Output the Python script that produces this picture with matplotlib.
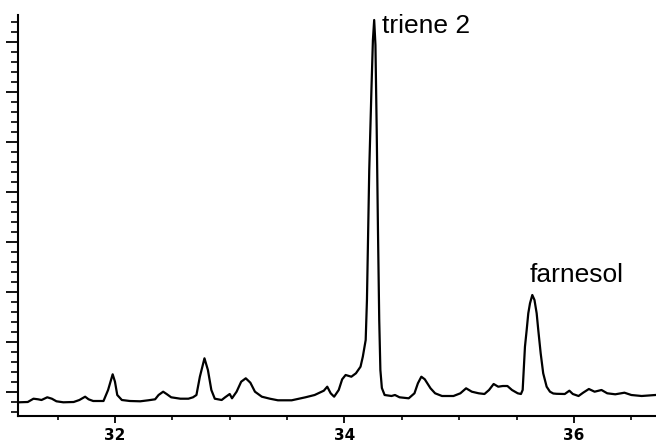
import matplotlib
matplotlib.use("Agg")
import matplotlib.pyplot as plt
from matplotlib.ticker import MultipleLocator, FixedLocator

# Retention time (min) and detector signal (arbitrary units)
rt = [31.16, 31.24, 31.29, 31.33, 31.36, 31.41, 31.45, 31.49, 31.55, 31.64,
      31.69, 31.74, 31.77, 31.81, 31.90, 31.94, 31.98, 32.00, 32.02, 32.06,
      32.13, 32.22, 32.29, 32.35, 32.38, 32.42, 32.45, 32.49, 32.57, 32.64,
      32.68, 32.71, 32.74, 32.78, 32.81, 32.84, 32.87, 32.93, 32.96, 33.00,
      33.02, 33.06, 33.10, 33.14, 33.18, 33.22, 33.28, 33.35, 33.42, 33.54,
      33.66, 33.74, 33.82, 33.85, 33.88, 33.91, 33.95, 33.98, 34.01, 34.06,
      34.10, 34.14, 34.16, 34.185, 34.196, 34.216, 34.235, 34.248, 34.259,
      34.270, 34.281, 34.292, 34.303, 34.313, 34.326, 34.343, 34.35, 34.41,
      34.44, 34.48, 34.56, 34.61, 34.64, 34.67, 34.70, 34.75, 34.79, 34.85,
      34.95, 35.01, 35.06, 35.11, 35.17, 35.22, 35.26, 35.30, 35.34, 35.38,
      35.42, 35.46, 35.51, 35.538, 35.553, 35.573, 35.588, 35.602, 35.617,
      35.637, 35.656, 35.675, 35.689, 35.710, 35.732, 35.762, 35.791, 35.820,
      35.849, 35.92, 35.96, 35.99, 36.04, 36.08, 36.13, 36.18, 36.24, 36.29,
      36.36, 36.44, 36.50, 36.59, 36.71]
signal = [-2.06, -2.0, -1.34, -1.46, -1.6, -1.06, -1.34, -1.86, -2.06, -2.0,
          -1.6, -0.94, -1.46, -1.8, -1.8, 0.4, 3.54, 2.06, -0.6, -1.6,
          -1.8, -1.86, -1.66, -1.46, -0.6, 0.06, -0.4, -1.06, -1.34, -1.34,
          -1.06, -0.6, 3.06, 6.74, 4.4, 0.4, -1.34, -1.6, -1.06, -0.4,
          -1.26, 0.06, 2.06, 2.74, 1.86, 0.06, -0.94, -1.34, -1.66, -1.66,
          -1.06, -0.6, 0.26, 1.06, -0.26, -0.94, 0.4, 2.54, 3.4, 3.06,
          3.74, 5.06, 7.06, 10.4, 18.4, 44.4, 60.4, 70.4, 74.4,
          69.4, 52.4, 32.4, 14.4, 4.4, 0.8, -0.2, -0.6, -0.8,
          -0.6, -1.06, -1.26, -0.26, 1.74, 3.06, 2.54, 0.74, -0.26, -0.8,
          -0.8, -0.26, 0.74, 0.06, -0.26, -0.4, 0.4, 1.6, 1.06, 1.2,
          1.2, 0.4, -0.26, -0.4, 0.4, 9.06, 12.4, 15.74, 17.74,
          19.4, 18.4, 15.74, 12.4, 7.74, 3.74, 1.06, 0.06, -0.3,
          -0.36, -0.4, 0.26, -0.4, -0.8, -0.14, 0.6, 0.06, 0.4, -0.26,
          -0.46, -0.14, -0.6, -0.8, -0.6]

peak_labels = ["triene 2", "farnesol"]
label_rt = [34.327, 35.617]
label_signal = [71.8, 22.0]

x_major = [32, 34, 36]
x_tick_labels = ["32", "34", "36"]

fig = plt.figure(figsize=(6.56, 4.42), dpi=100)
ax = fig.add_axes([18 / 656, 26 / 442, 1 - 18 / 656, (416 - 15) / 442])

ax.plot(rt, signal, color="black", linewidth=1.6, solid_joinstyle="round")

ax.set_xlim(31.155, 36.715)
ax.set_ylim(-4.8, 75.4)

for s in ["top", "right"]:
    ax.spines[s].set_visible(False)
for s in ["left", "bottom"]:
    ax.spines[s].set_linewidth(1.5)

ax.xaxis.set_major_locator(FixedLocator(x_major))
ax.set_xticklabels(x_tick_labels)
ax.xaxis.set_minor_locator(MultipleLocator(0.5))
ax.yaxis.set_major_locator(MultipleLocator(10))
ax.yaxis.set_minor_locator(MultipleLocator(2))
ax.set_yticklabels([])

ax.tick_params(axis="x", which="major", direction="out", length=5, width=1.3,
               labelsize=11, pad=4)
ax.tick_params(axis="x", which="minor", direction="out", length=3, width=1.2)
ax.tick_params(axis="y", which="major", direction="out", length=9, width=1.3,
               labelleft=False)
ax.tick_params(axis="y", which="minor", direction="out", length=5, width=1.2)
for lab in ax.get_xticklabels():
    lab.set_fontweight("bold")
    lab.set_family("DejaVu Sans")

for name, xr, yr in zip(peak_labels, label_rt, label_signal):
    ax.text(xr, yr, name, ha="left", va="baseline", fontsize=19,
            family="Liberation Sans", color="black")

fig.savefig("out.png", dpi=100)
